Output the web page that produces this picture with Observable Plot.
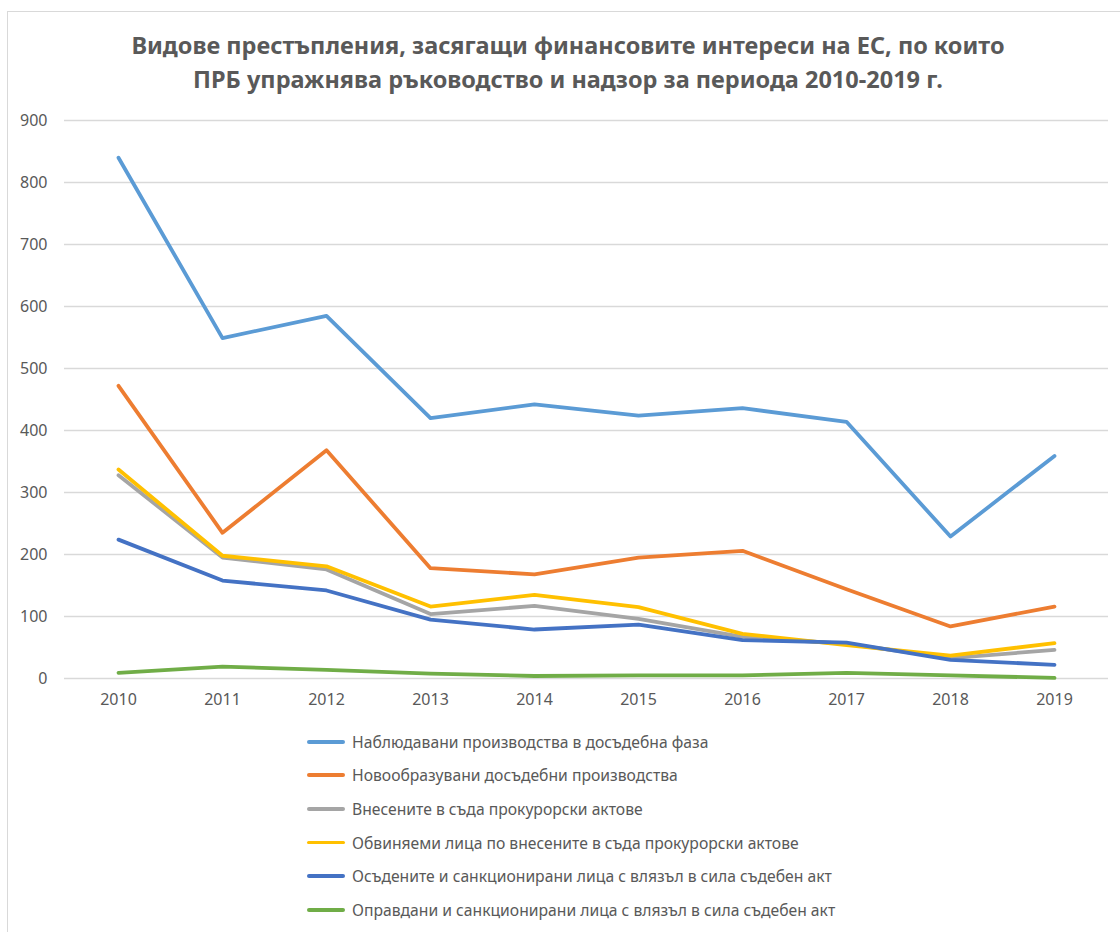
<!DOCTYPE html>
<html>
<head>
<meta charset="utf-8">
<script src="https://cdn.jsdelivr.net/npm/d3@7"></script>
<script src="https://cdn.jsdelivr.net/npm/@observablehq/plot@0.6"></script>
<style>
  body { margin: 0; background: #fff; font-family: "Noto Sans", sans-serif; }
  #wrap { position: relative; width: 1120px; height: 932px; overflow: hidden; }
  #frame { position: absolute; left: 7px; top: 11px; width: 1200px; height: 1000px; border: 1px solid #d9d9d9; }
  #title { position: absolute; left: 0; top: 28px; width: 1136px; text-align: center; font-weight: bold; font-size: 23.5px; line-height: 34px; color: #595959; }
  #chart { position: absolute; left: 0; top: 100px; }
  #legend { position: absolute; left: 307px; top: 725px; }
  .item { height: 33.6px; display: flex; align-items: center; font-size: 15.7px; color: #595959; white-space: nowrap; }
  .sw { width: 38px; height: 3.8px; border-radius: 2px; margin-right: 7px; }
</style>
</head>
<body>
<div id="wrap">
  <div id="frame"></div>
  <div id="title">Видове престъпления, засягащи финансовите интереси на ЕС, по които<br>ПРБ упражнява ръководство и надзор за периода 2010-2019 г.</div>
  <div id="chart"></div>
  <div id="legend"></div>
</div>
<script>
const years = ["2010","2011","2012","2013","2014","2015","2016","2017","2018","2019"];
const seriesNames = [
  "Наблюдавани производства в досъдебна фаза",
  "Новообразувани досъдебни производства",
  "Внесените  в съда прокурорски актове",
  "Обвиняеми лица по внесените в съда прокурорски актове",
  "Осъдените и санкционирани лица с влязъл в сила съдебен акт",
  "Оправдани и санкционирани лица с влязъл в сила съдебен акт"
];
const colors = ["#5B9BD5", "#ED7D31", "#A5A5A5", "#FFC000", "#4472C4", "#70AD47"];
const observed   = [840, 549, 585, 420, 442, 424, 436, 414, 229, 359];
const newCases   = [472, 235, 368, 178, 168, 195, 206, 144, 84, 116];
const acts       = [328, 195, 176, 104, 117, 96, 67, 56, 33, 46];
const accused    = [337, 198, 181, 116, 135, 115, 72, 54, 37, 57];
const convicted  = [224, 158, 142, 95, 79, 87, 62, 58, 30, 22];
const acquitted  = [9, 19, 14, 8, 4, 5, 5, 9, 5, 1];
const yTicks = [0, 100, 200, 300, 400, 500, 600, 700, 800, 900];

const allSeries = [observed, newCases, acts, accused, convicted, acquitted];
const data = [];
allSeries.forEach((vals, si) => vals.forEach((v, i) => data.push({series: seriesNames[si], year: years[i], value: v})));

const chart = Plot.plot({
  width: 1120,
  height: 620,
  marginLeft: 64,
  marginRight: 12,
  marginTop: 20,
  marginBottom: 42,
  style: { fontFamily: "Noto Sans, sans-serif", fontSize: "16px", color: "#595959", background: "transparent" },
  x: { type: "point", domain: years, padding: 0.5, label: null },
  y: { domain: [0, 900], label: null },
  color: { domain: seriesNames, range: colors },
  marks: [
    Plot.gridY(yTicks, { stroke: "#d9d9d9", strokeOpacity: 1, strokeWidth: 1.5 }),
    Plot.axisY(yTicks, { tickSize: 0, tickPadding: 17, label: null, fill: "#595959", fontSize: 16 }),
    Plot.axisX(years, { tickSize: 0, tickPadding: 15, label: null, fill: "#595959", fontSize: 16 }),
    Plot.line(data, { x: "year", y: "value", z: "series", stroke: "series", strokeWidth: 3.8, strokeLinecap: "round", strokeLinejoin: "round" })
  ]
});
document.getElementById("chart").appendChild(chart);

const legend = document.getElementById("legend");
seriesNames.forEach((name, i) => {
  const item = document.createElement("div");
  item.className = "item";
  const sw = document.createElement("div");
  sw.className = "sw";
  sw.style.background = colors[i];
  const tx = document.createElement("span");
  tx.textContent = name;
  item.appendChild(sw);
  item.appendChild(tx);
  legend.appendChild(item);
});
</script>
</body>
</html>
